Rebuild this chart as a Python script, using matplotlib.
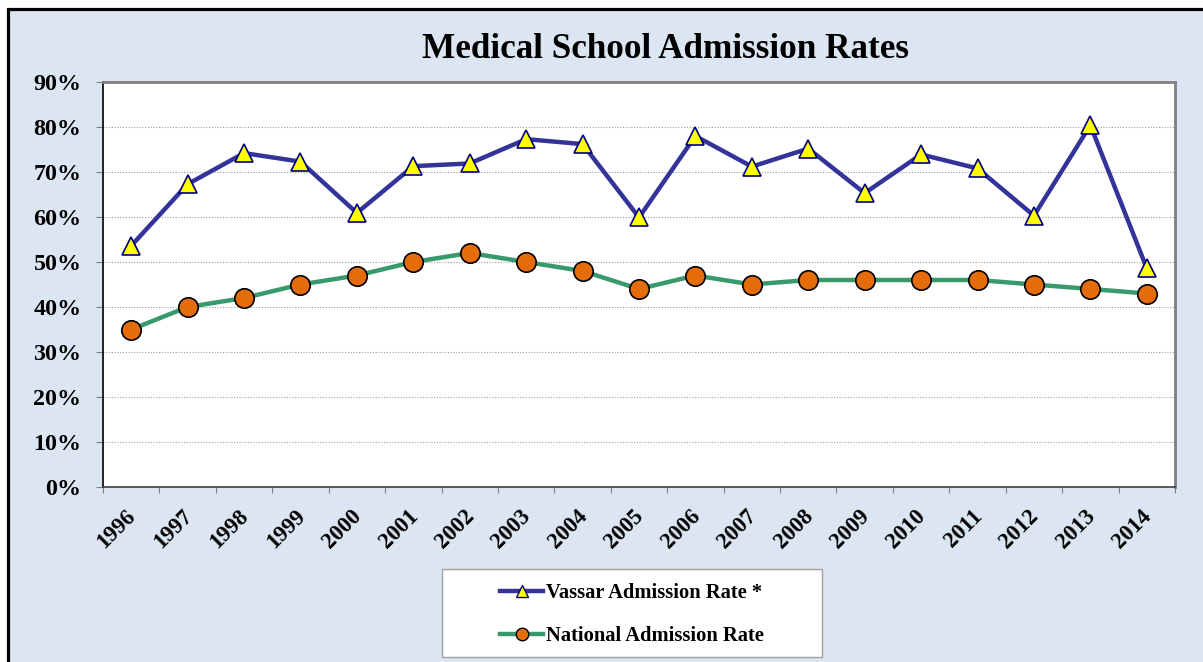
import numpy as np
import matplotlib
matplotlib.use("Agg")
import matplotlib.pyplot as plt
from matplotlib.lines import Line2D
from matplotlib.patches import Rectangle
import matplotlib.transforms as mtransforms

years = ["1996", "1997", "1998", "1999", "2000", "2001", "2002", "2003", "2004", "2005",
         "2006", "2007", "2008", "2009", "2010", "2011", "2012", "2013", "2014"]
vassar = [53.6, 67.3, 74.2, 72.3, 60.9, 71.3, 71.9, 77.3, 76.2, 59.9,
          78.0, 71.2, 75.2, 65.3, 73.9, 70.8, 60.3, 80.4, 48.6]
national = [35, 40, 42, 45, 47, 50, 52, 50, 48, 44,
            47, 45, 46, 46, 46, 46, 45, 44, 43]
ytick_vals = [0, 10, 20, 30, 40, 50, 60, 70, 80, 90]
ytick_labels = ["0%", "10%", "20%", "30%", "40%", "50%", "60%", "70%", "80%", "90%"]
title = "Medical School Admission Rates"
label_v = "Vassar Admission Rate *"
label_n = "National Admission Rate"

W, H = 1203, 662
plt.rcParams['font.family'] = ['Liberation Serif', 'DejaVu Serif']
plt.rcParams['font.weight'] = 'bold'

fig = plt.figure(figsize=(W / 100, H / 100), dpi=100)
fig.patch.set_facecolor('white')

bg = '#DCE6F2'
# outer chart area with black border on top/left
fig.patches.append(Rectangle((7.5 / W, -0.1), 1.2, 1 - 8.5 / H + 0.1,
                             transform=fig.transFigure, facecolor=bg,
                             edgecolor='black', linewidth=2.3, zorder=0))

left, right, bottom, top = 103 / W, 1175 / W, 1 - 487 / H, 1 - 82 / H
ax = fig.add_axes([left, bottom, right - left, top - bottom])
ax.set_zorder(3)
ax.set_facecolor('white')

n = len(years)
x = np.arange(n)
ax.plot(x, vassar, color='#333399', linewidth=3.2, marker='^', markersize=13,
        markerfacecolor='#FFFF00', markeredgecolor='#000080', markeredgewidth=1.2,
        zorder=4, solid_joinstyle='miter')
ax.plot(x, national, color='#389A6C', linewidth=3.2, marker='o', markersize=14,
        markerfacecolor='#E46C0A', markeredgecolor='black', markeredgewidth=1.2,
        zorder=3)

ax.set_xlim(-0.5, n - 0.5)
ax.set_ylim(0, 90)

# y axis
ax.set_yticks(ytick_vals)
ax.set_yticklabels(ytick_labels)
ax.tick_params(axis='y', direction='out', length=5, width=0.8, color='#808080',
               pad=10.5, labelsize=17.3)
for yv in ytick_vals[1:-1]:
    ax.axhline(yv, color='#A0A0A0', linewidth=0.8, linestyle=(0, (1, 1.5)), zorder=1)

# x axis: tick marks at boundaries, labels at centers
ax.set_xticks(np.arange(n + 1) - 0.5)
ax.set_xticklabels([])
ax.set_xticks(x, minor=True)
ax.set_xticklabels(years, minor=True, rotation=45, ha='right', va='center',
                   rotation_mode='anchor', fontsize=16.3, fontweight='bold')
ax.tick_params(axis='x', which='major', direction='out', length=4.5, width=0.8,
               color='#808080')
ax.tick_params(axis='x', which='minor', length=0, pad=19)
offset = mtransforms.ScaledTranslation(1.5 / 100, 0, fig.dpi_scale_trans)
for lab in ax.xaxis.get_minorticklabels():
    lab.set_transform(lab.get_transform() + offset)

for s in ['top', 'right']:
    ax.spines[s].set_color('#808080')
    ax.spines[s].set_linewidth(2.0)
ax.spines['left'].set_color('black')
ax.spines['left'].set_linewidth(1.2)
ax.spines['bottom'].set_color('#404040')
ax.spines['bottom'].set_linewidth(1.2)

fig.text(665.5 / W, 1 - 58 / H, title, ha='center', va='baseline',
         fontsize=25.3, fontweight='bold', zorder=5)

# legend box
fig.patches.append(Rectangle((442 / W, 1 - 657 / H), 380 / W, 88 / H,
                             transform=fig.transFigure, facecolor='white',
                             edgecolor='#A0A0A0', linewidth=1.0, zorder=1))
handles = [
    Line2D([], [], color='#333399', linewidth=3.2, marker='^', markersize=8,
           markerfacecolor='#FFFF00', markeredgecolor='#000080', markeredgewidth=1.0),
    Line2D([], [], color='#389A6C', linewidth=3.2, marker='o', markersize=9,
           markerfacecolor='#E46C0A', markeredgecolor='black', markeredgewidth=1.0),
]
leg = fig.legend(handles, [label_v, label_n], loc='center left',
                 bbox_to_anchor=(500 / W, 1 - 614.5 / H), frameon=False,
                 borderpad=0, borderaxespad=0, handlelength=2.1, handletextpad=0.15,
                 labelspacing=1.1, prop={'family': 'Liberation Serif',
                                         'weight': 'bold', 'size': 14.8})
leg.set_zorder(5)

fig.savefig('out.png', dpi=100, facecolor=fig.get_facecolor())
